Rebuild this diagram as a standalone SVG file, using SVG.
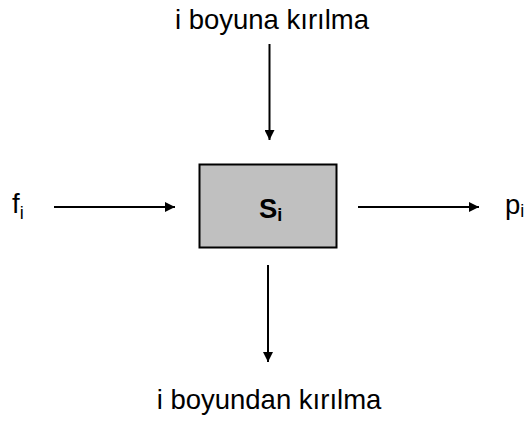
<svg xmlns="http://www.w3.org/2000/svg" width="529" height="421" viewBox="0 0 529 421">
  <style>
    .lbl { font-family: "Liberation Sans", Arial, sans-serif; font-size: 27.5px; fill: #000; }
    .sub { font-size: 18px; }
    .edge { stroke: #000; stroke-width: 2; fill: none; marker-end: url(#arrow); }
  </style>
  <defs>
    <marker id="arrow" markerWidth="10" markerHeight="10" refX="10" refY="5" orient="auto" markerUnits="userSpaceOnUse">
      <path d="M0,0 L10,5 L0,10 Z" fill="#000"/>
    </marker>
  </defs>
  <rect width="529" height="421" fill="#fff"/>

  <g id="connectors">
    <line class="edge" x1="54" y1="207" x2="175" y2="207"/>
    <line class="edge" x1="358" y1="207" x2="479" y2="207"/>
    <line class="edge" x1="269.5" y1="44" x2="269.5" y2="140"/>
    <line class="edge" x1="268" y1="265" x2="268" y2="362"/>
  </g>

  <g id="node-s">
    <rect x="199.5" y="164.5" width="137" height="83" fill="#c0c0c0" stroke="#000" stroke-width="2"/>
    <text class="lbl" x="259" y="218" font-weight="bold" font-size="29">S<tspan class="sub" dy="3">i</tspan></text>
  </g>

  <g id="node-f">
    <text class="lbl" x="12" y="213">f<tspan class="sub" dy="6">i</tspan></text>
  </g>

  <g id="node-p">
    <text class="lbl" x="505" y="214">p<tspan class="sub" dy="3">i</tspan></text>
  </g>

  <g id="node-top">
    <text class="lbl" x="272" y="29" text-anchor="middle">i boyuna kırılma</text>
  </g>

  <g id="node-bottom">
    <text class="lbl" x="269" y="409" text-anchor="middle">i boyundan kırılma</text>
  </g>
</svg>
